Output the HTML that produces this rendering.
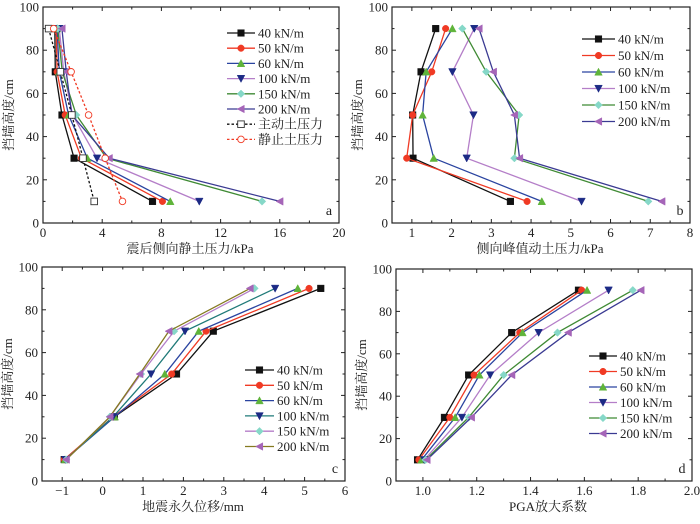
<!DOCTYPE html>
<html><head><meta charset="utf-8">
<style>
html,body{margin:0;padding:0;background:#fff;}
svg{display:block;}
text{font-family:"Liberation Serif","Noto Serif CJK SC",serif;fill:#222;}
.cn{font-family:"Liberation Serif","Noto Serif CJK SC","Noto Sans CJK SC",serif;}
</style></head>
<body>
<svg id="chart" width="700" height="524" viewBox="0 0 700 524" xmlns="http://www.w3.org/2000/svg"></svg>
<script>
// ---- shared data ----
const heights = [90, 70, 50, 30, 10];
const seriesNames = ["40 kN/m","50 kN/m","60 kN/m","100 kN/m","150 kN/m","200 kN/m"];
// panel a: post-earthquake lateral static earth pressure (kPa)
const aVals40 = [0.8, 0.83, 1.28, 2.1, 7.4];
const aVals50 = [0.9, 0.95, 1.5, 2.6, 8.07];
const aVals60 = [0.95, 1.1, 1.73, 3.0, 8.6];
const aVals100 = [1.1, 1.4, 2.0, 3.65, 10.56];
const aVals150 = [1.0, 1.3, 2.25, 4.3, 14.8];
const aVals200 = [1.28, 1.57, 1.95, 4.47, 16.0];
const aActive = [0.38, 1.17, 1.95, 2.7, 3.46];
const aAtRest = [0.72, 1.9, 3.08, 4.2, 5.37];
const aXTicks = [0, 4, 8, 12, 16, 20];
// panel b: lateral peak dynamic earth pressure (kPa)
const bVals40 = [1.6, 1.23, 1.02, 1.03, 3.48];
const bVals50 = [1.85, 1.5, 1.02, 0.87, 3.9];
const bVals60 = [2.02, 1.36, 1.27, 1.55, 4.27];
const bVals100 = [2.57, 2.02, 2.55, 2.38, 5.27];
const bVals150 = [2.27, 2.87, 3.7, 3.58, 6.95];
const bVals200 = [2.69, 3.05, 3.58, 3.71, 7.29];
const bXTicks = [1, 2, 3, 4, 5, 6, 7, 8];
// panel c: permanent displacement (mm)
const cVals40 = [5.4, 2.74, 1.83, 0.29, -0.95];
const cVals50 = [5.11, 2.56, 1.71, 0.26, -0.95];
const cVals60 = [4.83, 2.38, 1.54, 0.3, -0.93];
const cVals100 = [4.27, 2.04, 1.2, 0.26, -0.92];
const cVals150 = [3.76, 1.77, 0.95, 0.18, -0.9];
const cVals200 = [3.65, 1.64, 0.92, 0.18, -0.9];
const cXTicks = [-1, 0, 1, 2, 3, 4, 5, 6];
// panel d: PGA amplification
const dVals40 = [1.578, 1.33, 1.17, 1.08, 0.98];
const dVals50 = [1.59, 1.36, 1.19, 1.1, 0.985];
const dVals60 = [1.61, 1.37, 1.21, 1.12, 0.995];
const dVals100 = [1.69, 1.43, 1.25, 1.145, 1.005];
const dVals150 = [1.78, 1.5, 1.3, 1.17, 1.01];
const dVals200 = [1.81, 1.54, 1.33, 1.18, 1.015];
const dXTicks = [1.0, 1.2, 1.4, 1.6, 1.8, 2.0];
const yTicks = [0, 20, 40, 60, 80, 100];

const NS = "http://www.w3.org/2000/svg";
const svg = document.getElementById('chart');
function mk(tag, attrs, parent) {
  const e = document.createElementNS(NS, tag);
  for (const k in attrs) e.setAttribute(k, attrs[k]);
  (parent || svg).appendChild(e);
  return e;
}
function marker(g, shape, x, y, color, open) {
  const s = 3.3;
  const fill = open ? '#fff' : color;
  const st = {fill: fill, stroke: color, 'stroke-width': open ? 0.9 : 0.5};
  let m;
  if (shape === 'sq') m = mk('rect', Object.assign({x: x - s, y: y - s, width: 2 * s, height: 2 * s}, st), g);
  else if (shape === 'ci') m = mk('circle', Object.assign({cx: x, cy: y, r: s}, st), g);
  else {
    let p;
    if (shape === 'up') p = [[x, y - s - 0.5], [x - s - 0.5, y + s], [x + s + 0.5, y + s]];
    else if (shape === 'dn') p = [[x, y + s + 0.5], [x - s - 0.5, y - s], [x + s + 0.5, y - s]];
    else if (shape === 'di') p = [[x, y - s - 0.5], [x + s + 0.5, y], [x, y + s + 0.5], [x - s - 0.5, y]];
    else p = [[x - s - 0.5, y], [x + s, y - s - 0.5], [x + s, y + s + 0.5]];
    m = mk('polygon', Object.assign({points: p.map(q => q.join(',')).join(' ')}, st), g);
  }
  
  
}

function panel(cfg) {
  const g = mk('g', {});
  
  
  const X = v => cfg.L + (v - cfg.xmin) / (cfg.xmax - cfg.xmin) * (cfg.R - cfg.L);
  const Y = v => cfg.B - v / 100 * (cfg.B - cfg.T);
  // ticks
  const tg = mk('g', {stroke: '#222', 'stroke-width': 1}, g);
  
  
  const step = cfg.xTicks[1] - cfg.xTicks[0];
  for (let v = cfg.xmin; v <= cfg.xmax + 1e-9; v += step / 2) {
    const x = X(v);
    const major = cfg.xTicks.some(t => Math.abs(t - v) < 1e-6);
    const len = major ? 4 : 2.5;
    mk('line', {x1: x, x2: x, y1: cfg.B, y2: cfg.B - len}, tg);
    mk('line', {x1: x, x2: x, y1: cfg.T, y2: cfg.T + len}, tg);
  }
  for (let v = 0; v <= 100; v += 10) {
    const y = Y(v);
    const len = v % 20 === 0 ? 4 : 2.5;
    mk('line', {x1: cfg.L, x2: cfg.L + len, y1: y, y2: y}, tg);
    mk('line', {x1: cfg.R, x2: cfg.R - len, y1: y, y2: y}, tg);
  }
  const fr = mk('rect', {x: cfg.L, y: cfg.T, width: cfg.R - cfg.L, height: cfg.B - cfg.T, fill: 'none', stroke: '#222', 'stroke-width': 1.2}, g);
  
  
  cfg.xTicks.forEach(t => {
    const tx = mk('text', {x: X(t), y: cfg.B + 14, 'font-size': 13, 'text-anchor': 'middle'}, g);
    tx.textContent = cfg.fmt ? cfg.fmt(t) : (t < 0 ? '\u2212' + (-t) : String(t));
    
    
  });
  yTicks.forEach(t => {
    const tx = mk('text', {x: cfg.L - 4, y: Y(t) + 4.5, 'font-size': 13, 'text-anchor': 'end'}, g);
    tx.textContent = String(t);
    
    
  });
  const xt = mk('text', {x: cfg.xtX, y: cfg.B + 30, 'font-size': 13, 'text-anchor': 'middle', 'class': 'cn'}, g);
  xt.textContent = cfg.xTitle;
  
  
  const ycx = cfg.L - 30, ycy = (cfg.T + cfg.B) / 2;
  const yt = mk('text', {x: ycx, y: ycy, 'font-size': 13, 'text-anchor': 'middle', 'class': 'cn', transform: `rotate(-90 ${ycx} ${ycy})`}, g);
  yt.textContent = '挡墙高度/cm';
  
  
  const lt = mk('text', {x: cfg.R - 10, y: cfg.B - 8, 'font-size': 14, 'text-anchor': 'middle'}, g);
  lt.textContent = cfg.letter;
  
  
  // series
  cfg.series.forEach((s, i) => {
    const sg = mk('g', {}, g);
    
    
    const pts = s.vals.map((v, j) => [X(v), Y(heights[j])]);
    mk('polyline', {points: pts.map(p => p.join(',')).join(' '), fill: 'none', stroke: s.line, 'stroke-width': 1.3, 'stroke-dasharray': s.dash || 'none'}, sg);
    pts.forEach(p => marker(sg, s.shape, p[0], p[1], s.mark, s.open));
    // legend
    const ly = cfg.legY + i * cfg.legDy;
    const lg = mk('g', {}, g);
    
    
    mk('line', {x1: cfg.legX, x2: cfg.legX + cfg.legW, y1: ly, y2: ly, stroke: s.line, 'stroke-width': 1.3, 'stroke-dasharray': s.dash || 'none'}, lg);
    marker(lg, s.shape, cfg.legX + cfg.legW / 2, ly, s.mark, s.open);
    const te = mk('text', {x: cfg.legX + cfg.legW + 3, y: ly + 4.5, 'font-size': 13, 'class': 'cn'}, lg);
    te.textContent = s.label;
  });
}

function std(v, lineCols) {
  const marks = ['#111', '#f03a24', '#5fb43a', '#1c2a85', '#86d8c8', '#a565b8'];
  const shapes = ['sq', 'ci', 'up', 'dn', 'di', 'lt'];
  return v.map((vals, i) => ({vals: vals, label: seriesNames[i], line: lineCols[i], mark: marks[i], shape: shapes[i]}));
}
const linesAB = ['#111', '#f03a24', '#2a44a0', '#b47ec8', '#3f8a34', '#3a3a92'];
const linesC = ['#111', '#f03a24', '#2a44a0', '#1f7a78', '#b47ec8', '#857a20'];

const aSeries = std([aVals40, aVals50, aVals60, aVals100, aVals150, aVals200], linesAB);
aSeries.push({vals: aActive, label: '主动土压力', line: '#111', mark: '#333', shape: 'sq', open: true, dash: '2.5,2'});
aSeries.push({vals: aAtRest, label: '静止土压力', line: '#f03a24', mark: '#f03a24', shape: 'ci', open: true, dash: '2.5,2'});

panel({name: 'panel-a', L: 43, R: 339, T: 7, B: 223, xmin: 0, xmax: 20, xTicks: aXTicks,
  xTitle: '震后侧向静土压力/kPa', xtX: 190, letter: 'a', series: aSeries,
  legX: 227, legY: 33, legDy: 15.2, legW: 28});
panel({name: 'panel-b', L: 392, R: 690, T: 7, B: 223, xmin: 0.5, xmax: 8, xTicks: bXTicks,
  xTitle: '侧向峰值动土压力/kPa', xtX: 540, letter: 'b',
  series: std([bVals40, bVals50, bVals60, bVals100, bVals150, bVals200], linesAB),
  legX: 582, legY: 39, legDy: 16.5, legW: 33});
panel({name: 'panel-c', L: 42, R: 345, T: 267, B: 481, xmin: -1.5, xmax: 6, xTicks: cXTicks,
  xTitle: '地震永久位移/mm', xtX: 193, letter: 'c',
  series: std([cVals40, cVals50, cVals60, cVals100, cVals150, cVals200], linesC),
  legX: 245, legY: 370, legDy: 15.3, legW: 29});
panel({name: 'panel-d', L: 396, R: 692, T: 269, B: 481, xmin: 0.9, xmax: 2.0, xTicks: dXTicks,
  xTitle: 'PGA放大系数', xtX: 548, letter: 'd', fmt: t => t.toFixed(1),
  series: std([dVals40, dVals50, dVals60, dVals100, dVals150, dVals200], linesAB),
  legX: 589, legY: 356, legDy: 15.5, legW: 28});
</script>
</body></html>
